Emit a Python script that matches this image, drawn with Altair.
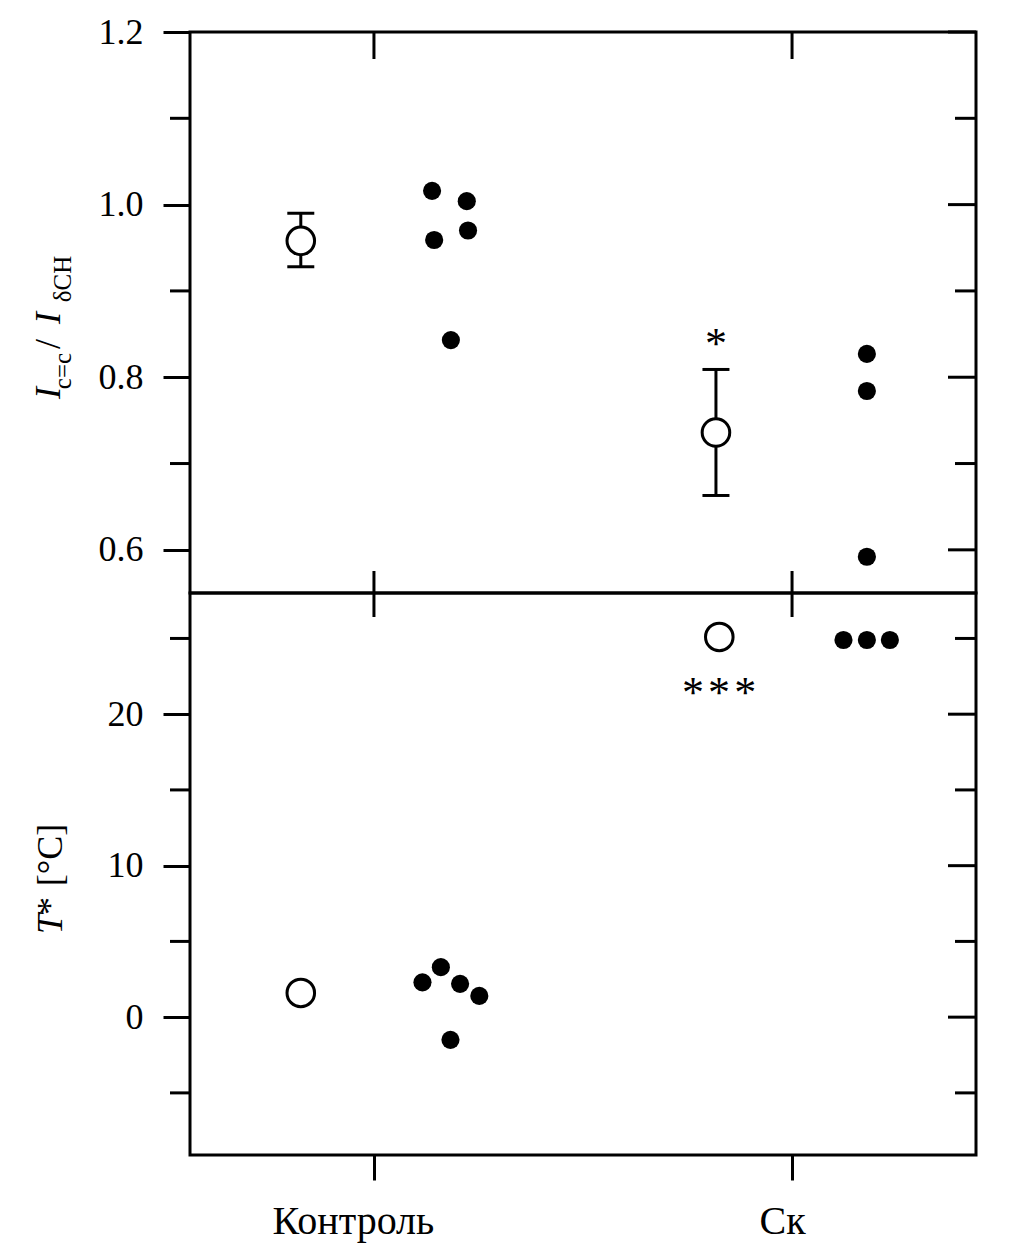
import altair as alt
import pandas as pd

FONT = "Liberation Serif"

# ---------------- data ----------------
categories = ["Контроль", "Ск"]
cat_pos = [0, 1]

# top panel: I(C=C)/I(δCH)
ratio_mean_x = [-0.175, 0.818]
ratio_mean = [0.958, 0.736]
ratio_lo = [0.928, 0.663]
ratio_hi = [0.990, 0.809]

ratio_ind_x = [0.139, 0.222, 0.144, 0.225, 0.184, 1.179, 1.179, 1.179]
ratio_ind = [1.016, 1.004, 0.959, 0.970, 0.843, 0.827, 0.784, 0.592]

# bottom panel: T* [°C]
t_mean_x = [-0.175, 0.826]
t_mean = [1.6, 25.1]
t_ind_x = [0.116, 0.160, 0.206, 0.252, 0.183, 1.123, 1.179, 1.234]
t_ind = [2.3, 3.3, 2.2, 1.4, -1.5, 24.9, 24.9, 24.9]

# significance marks
sig_top_x = [0.818]
sig_top_y = [0.822]
sig_bot_x = [0.763, 0.825, 0.888]
sig_bot_y = [20.5, 20.5, 20.5]

# axis ticks
top_major = [0.6, 0.8, 1.0, 1.2]
top_minor = [0.7, 0.9, 1.1]
bot_major = [0, 10, 20]
bot_minor = [-5, 5, 15, 25]

W = 786
H1 = 561
H2 = 562

xs = alt.Scale(domain=[-0.44, 1.44], nice=False, zero=False)
ys1 = alt.Scale(domain=[0.55, 1.2], nice=False, zero=False)
ys2 = alt.Scale(domain=[-9.1, 28.0], nice=False, zero=False)

BLACK = "black"

top_axis = alt.Axis(
    values=top_major, format=".1f", tickSize=27, tickWidth=3, tickColor=BLACK,
    labelFont=FONT, labelFontSize=36, labelColor=BLACK, labelPadding=20,
    domain=False, grid=False, title=None,
)
bot_axis = alt.Axis(
    values=bot_major, format="d", tickSize=27, tickWidth=3, tickColor=BLACK,
    labelFont=FONT, labelFontSize=36, labelColor=BLACK, labelPadding=20,
    domain=False, grid=False, title=None,
)
x_axis = alt.Axis(
    values=cat_pos, labelExpr="datum.value == 0 ? 'Контроль' : 'Ск'",
    labelOffset=alt.ExprRef(expr="datum.value == 0 ? -21 : -10"),
    tickSize=25, tickWidth=3, tickColor=BLACK,
    labelFont=FONT, labelFontSize=40, labelColor=BLACK, labelPadding=21,
    domain=False, grid=False, title=None,
)


def df(**kw):
    return pd.DataFrame(kw)


def panel_enc(top_panel):
    ys = ys1 if top_panel else ys2
    yax = top_axis if top_panel else bot_axis
    xax = None if top_panel else x_axis

    def X(f="x"):
        return alt.X(f + ":Q", scale=xs, axis=xax)

    def Y(f="y"):
        return alt.Y(f + ":Q", scale=ys, axis=yax)

    return X, Y


def ticks_layers(major, minor, H, top_panel):
    X, Y = panel_enc(top_panel)
    layers = []
    layers.append(
        alt.Chart(df(v=minor)).mark_rule(color=BLACK, strokeWidth=3).encode(
            y=Y("v"), x=alt.value(-20), x2=alt.value(0)
        )
    )
    layers.append(
        alt.Chart(df(v=major)).mark_rule(color=BLACK, strokeWidth=3).encode(
            y=Y("v"), x=alt.value(W - 28), x2=alt.value(W)
        )
    )
    layers.append(
        alt.Chart(df(v=minor)).mark_rule(color=BLACK, strokeWidth=3).encode(
            y=Y("v"), x=alt.value(W - 21), x2=alt.value(W)
        )
    )
    if top_panel:
        layers.append(
            alt.Chart(df(x=cat_pos)).mark_rule(color=BLACK, strokeWidth=3).encode(
                x=X(), y=alt.value(0), y2=alt.value(27)
            )
        )
        layers.append(
            alt.Chart(df(x=cat_pos)).mark_rule(color=BLACK, strokeWidth=3).encode(
                x=X(), y=alt.value(H - 22), y2=alt.value(H)
            )
        )
    else:
        layers.append(
            alt.Chart(df(x=cat_pos)).mark_rule(color=BLACK, strokeWidth=3).encode(
                x=X(), y=alt.value(0), y2=alt.value(24)
            )
        )
    return layers


def text_piece(txt, x, y, size, italic=False):
    kw = dict(
        text=txt, angle=270, align="center", baseline="alphabetic",
        font=FONT, fontSize=size, color=BLACK,
    )
    if italic:
        kw["fontStyle"] = "italic"
    return alt.Chart(df(a=[0])).mark_text(**kw).encode(x=alt.value(x), y=alt.value(y))


def open_circle():
    return dict(
        shape="circle", filled=True, fill="white", stroke=BLACK, strokeWidth=3,
        size=760, opacity=1, fillOpacity=1, strokeOpacity=1,
    )


def star_text():
    return dict(text="*", font=FONT, fontSize=44, color=BLACK, baseline="alphabetic", align="center")


# ---------------- top panel ----------------
X1, Y1 = panel_enc(True)
top_mean = df(x=ratio_mean_x, y=ratio_mean, lo=ratio_lo, hi=ratio_hi)
top_ind = df(x=ratio_ind_x, y=ratio_ind)

top_layers = ticks_layers(top_major, top_minor, H1, True)
top_layers += [
    alt.Chart(top_ind).mark_circle(size=330, color=BLACK, opacity=1).encode(x=X1(), y=Y1()),
    alt.Chart(top_mean).mark_rule(color=BLACK, strokeWidth=3).encode(x=X1(), y=Y1("lo"), y2="hi:Q"),
    alt.Chart(top_mean).mark_tick(orient="horizontal", size=27, thickness=3, color=BLACK, opacity=1).encode(
        x=X1(), y=Y1("lo")
    ),
    alt.Chart(top_mean).mark_tick(orient="horizontal", size=27, thickness=3, color=BLACK, opacity=1).encode(
        x=X1(), y=Y1("hi")
    ),
    alt.Chart(top_mean).mark_point(**open_circle()).encode(x=X1(), y=Y1()),
    alt.Chart(df(x=sig_top_x, y=sig_top_y)).mark_text(**star_text()).encode(x=X1(), y=Y1()),
    # y title: I_{c=c} / I_{δCH}
    text_piece("I", -130, 361, 36, italic=True),
    text_piece("c=c", -119, 339, 25),
    text_piece("/", -130, 312, 36),
    text_piece("I", -130, 286, 36, italic=True),
    text_piece("δCH", -119, 247, 25),
]
top = alt.layer(*top_layers).properties(width=W, height=H1)

# ---------------- bottom panel ----------------
X2, Y2 = panel_enc(False)
bot_mean = df(x=t_mean_x, y=t_mean)
bot_ind = df(x=t_ind_x, y=t_ind)

bot_layers = ticks_layers(bot_major, bot_minor, H2, False)
bot_layers += [
    alt.Chart(bot_ind).mark_circle(size=330, color=BLACK, opacity=1).encode(x=X2(), y=Y2()),
    alt.Chart(bot_mean).mark_point(**open_circle()).encode(x=X2(), y=Y2()),
    alt.Chart(df(x=sig_bot_x, y=sig_bot_y)).mark_text(**star_text()).encode(x=X2(), y=Y2()),
    # y title: T* [°C]
    text_piece("T", -128, 331, 36, italic=True),
    text_piece("*", -128, 313, 36),
    text_piece("[°C]", -128, 262, 36),
]
bottom = alt.layer(*bot_layers).properties(width=W, height=H2)

chart = (
    alt.vconcat(top, bottom, spacing=0, bounds="flush")
    .properties(padding={"left": 21, "top": 4, "right": 20, "bottom": 20}, background="white")
    .configure_view(stroke=BLACK, strokeWidth=3)
)

chart.save("out.html", embed_options={"renderer": "svg", "actions": False})
